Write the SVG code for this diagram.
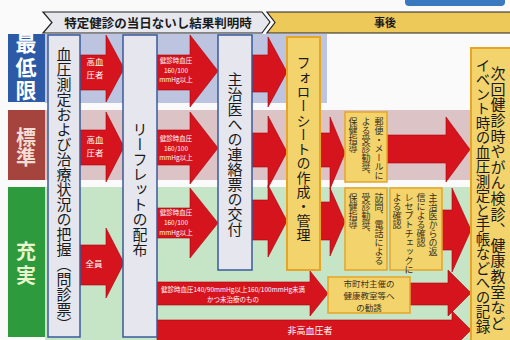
<svg xmlns="http://www.w3.org/2000/svg" width="510" height="340" viewBox="0 0 510 340">
<style>
.t { font-family: "Noto Sans CJK JP", "Noto Sans CJK SC", sans-serif; }
.v { writing-mode: vertical-rl; }
.arrow { fill: #d6141d; stroke: #a8000c; stroke-width: 0.6; }
.gbox { fill: #e6e7ee; stroke: #3a5a9a; stroke-width: 1.5; }
.ybox { fill: #f3d46c; stroke: #e6a526; stroke-width: 2; }
.sbox { fill: #f3d46c; stroke: #e6a526; stroke-width: 1.5; }
.at { fill: #ffffff; font-size: 8.5px; text-anchor: middle; }
.st { fill: #ffffff; font-size: 6.5px; text-anchor: middle; }
.big { font-size: 15px; fill: #1a1a1a; }
.small { font-size: 9px; fill: #3a3020; }
.ct { font-size: 8.5px; fill: #3a3020; text-anchor: middle; }
</style>
<rect x="0" y="0" width="510" height="340" fill="#fafafa"/>
<rect x="405" y="-10" width="100" height="16" rx="4" fill="#3a78c0"/>

<g id="backgrounds">
  <rect x="45" y="34" width="282" height="69" fill="#bcc4df"/>
  <rect x="45" y="110" width="428" height="70" fill="#dcc4c6"/>
  <rect x="45" y="187" width="428" height="153" fill="#c6e4c6"/>
</g>

<g id="header">
  <polygon points="43,12 262,12 270,22 262,33 43,33 52,22.5" fill="#e6e8ee" stroke="#222" stroke-width="1.2"/>
  <polygon points="267,12 512,12 512,33 267,33 275,22.5" fill="#edc95a" stroke="#222" stroke-width="1.2"/>
  <text class="t" x="158" y="27.5" font-size="12.5" font-weight="bold" text-anchor="middle" fill="#1a1a1a">特定健診の当日ないし結果判明時</text>
  <text class="t" x="385" y="27" font-size="11" font-weight="bold" text-anchor="middle" fill="#1a1a1a">事後</text>
</g>

<g id="row-labels">
  <g id="label-minimum">
    <rect x="8" y="34" width="37" height="68" fill="#2c5aa6"/>
    <text class="t v" x="26" y="33" font-size="21" font-weight="bold" letter-spacing="2.5" fill="#ffffff">最低限</text>
  </g>
  <g id="label-standard">
    <rect x="8" y="110" width="37" height="70" fill="#a5443c"/>
    <text class="t v" x="26" y="127" font-size="20" font-weight="bold" letter-spacing="0.5" fill="#f3dcd4">標準</text>
  </g>
  <g id="label-full">
    <rect x="8" y="187" width="37" height="150" fill="#2e9a3e"/>
    <text class="t v" x="26" y="241" font-size="20" font-weight="bold" letter-spacing="4" fill="#eaf6cc">充実</text>
  </g>
</g>

<g id="connectors">
  <polygon class="arrow" points="80,55 106,55 106,35 124,68.5 106,102 106,90 80,90"/>
  <polygon class="arrow" points="157,55 190,55 190,35 218,71 190,107 190,90 157,90"/>
  <polygon class="arrow" points="252,55 268,55 268,37 287,72 268,107 268,92 252,92"/>

  <polygon class="arrow" points="80,130 106,130 106,112 124,147 106,182 106,165 80,165"/>
  <polygon class="arrow" points="157,130 190,130 190,112 218,148 190,184 190,165 157,165"/>
  <polygon class="arrow" points="252,133 268,133 268,116 287,152 268,188 268,167 252,167"/>
  <polygon class="arrow" points="320,133 330,133 330,117 345,153 330,189 330,167 320,167"/>
  <polygon class="arrow" points="387,135 446,135 446,117 470,149.5 446,182 446,163 387,163"/>

  <polygon class="arrow" points="80,245 106,245 106,228 124,263 106,298 106,285 80,285"/>
  <polygon class="arrow" points="157,208 190,208 190,188 218,223 190,258 190,238 157,238"/>
  <polygon class="arrow" points="252,200 268,200 268,185 287,221 268,257 268,240 252,240"/>
  <polygon class="arrow" points="320,202 330,202 330,188 345,222 330,256 330,240 320,240"/>
  <polygon class="arrow" points="442,210 452,210 452,188 471,230 452,272 452,250 442,250"/>
  <polygon class="arrow" points="157,282 310,282 310,271 328,293.5 310,316 310,305 157,305"/>
  <polygon class="arrow" points="410,283 448,283 448,270 471,293 448,316 448,305 410,305"/>
  <polygon class="arrow" points="157,320 452,320 452,311 471,330 452,349 452,342 157,342"/>

  <text class="t at" x="95" y="65">高血</text>
  <text class="t at" x="95" y="77.5">圧者</text>
  <text class="t at" x="95" y="143">高血</text>
  <text class="t at" x="95" y="155.5">圧者</text>
  <text class="t at" x="94" y="267">全員</text>

  <text class="t st" x="176" y="63">健診時血圧</text>
  <text class="t st" x="176" y="72.5">160/100</text>
  <text class="t st" x="176" y="82">mmHg以上</text>
  <text class="t st" x="176" y="141">健診時血圧</text>
  <text class="t st" x="176" y="150.5">160/100</text>
  <text class="t st" x="176" y="160">mmHg以上</text>
  <text class="t st" x="176" y="215">健診時血圧</text>
  <text class="t st" x="176" y="225">160/100</text>
  <text class="t st" x="176" y="235">mmHg以上</text>

  <text class="t st" x="233" y="292">健診時血圧140/90mmHg以上160/100mmHg未満</text>
  <text class="t st" x="233" y="301.5">かつ未治療のもの</text>
  <text class="t" x="310" y="334" font-size="9" fill="#ffffff" text-anchor="middle">非高血圧者</text>
</g>

<g id="node-questionnaire">
  <rect class="gbox" x="48" y="35" width="32" height="302"/>
  <text class="t v big" x="64" y="47">血圧測定および治療状況の把握（問診票）</text>
</g>
<g id="node-leaflet">
  <rect class="gbox" x="123" y="35" width="34" height="302"/>
  <text class="t v big" x="140" y="122">リーフレットの配布</text>
</g>
<g id="node-referral">
  <rect class="gbox" x="218" y="35" width="34" height="235"/>
  <text class="t v big" x="235" y="72">主治医への連絡票の交付</text>
</g>
<g id="node-followsheet">
  <rect class="ybox" x="287" y="37" width="33" height="233"/>
  <text class="t v" x="303.5" y="56" font-size="14" letter-spacing="0.3" fill="#1a1a1a">フォローシートの作成・管理</text>
</g>
<g id="node-mail">
  <rect class="sbox" x="345" y="112" width="42" height="70"/>
  <text class="t v small" x="379" y="117">郵便・メールに</text>
  <text class="t v small" x="366" y="117">よる受診勧奨、</text>
  <text class="t v small" x="353" y="117">保健指導</text>
</g>
<g id="node-visit">
  <rect class="sbox" x="345" y="188" width="42" height="82"/>
  <text class="t v small" x="379" y="193">訪問、電話による</text>
  <text class="t v small" x="366" y="193">受診勧奨、</text>
  <text class="t v small" x="353" y="193">保健指導</text>
</g>
<g id="node-reply">
  <rect class="sbox" x="390" y="188" width="52" height="82"/>
  <text class="t v small" x="433" y="193">主治医からの返</text>
  <text class="t v small" x="421" y="193">信による確認</text>
  <text class="t v small" x="409" y="193">レセプトチェックに</text>
  <text class="t v small" x="397" y="193">よる確認</text>
</g>
<g id="node-class">
  <rect class="sbox" x="328" y="277" width="82" height="36"/>
  <text class="t ct" x="369" y="286.5">市町村主催の</text>
  <text class="t ct" x="369" y="298.8">健康教室等へ</text>
  <text class="t ct" x="369" y="311">の勧誘</text>
</g>
<g id="node-record">
  <rect class="ybox" x="471" y="48" width="42" height="297"/>
  <text class="t v" x="498" y="66" font-size="15" letter-spacing="0.6" fill="#1a1a1a">次回健診時やがん検診、健康教室など</text>
  <text class="t v" x="483" y="58" font-size="14.5" fill="#1a1a1a">イベント時の血圧測定と手帳などへの記録</text>
</g>
</svg>
